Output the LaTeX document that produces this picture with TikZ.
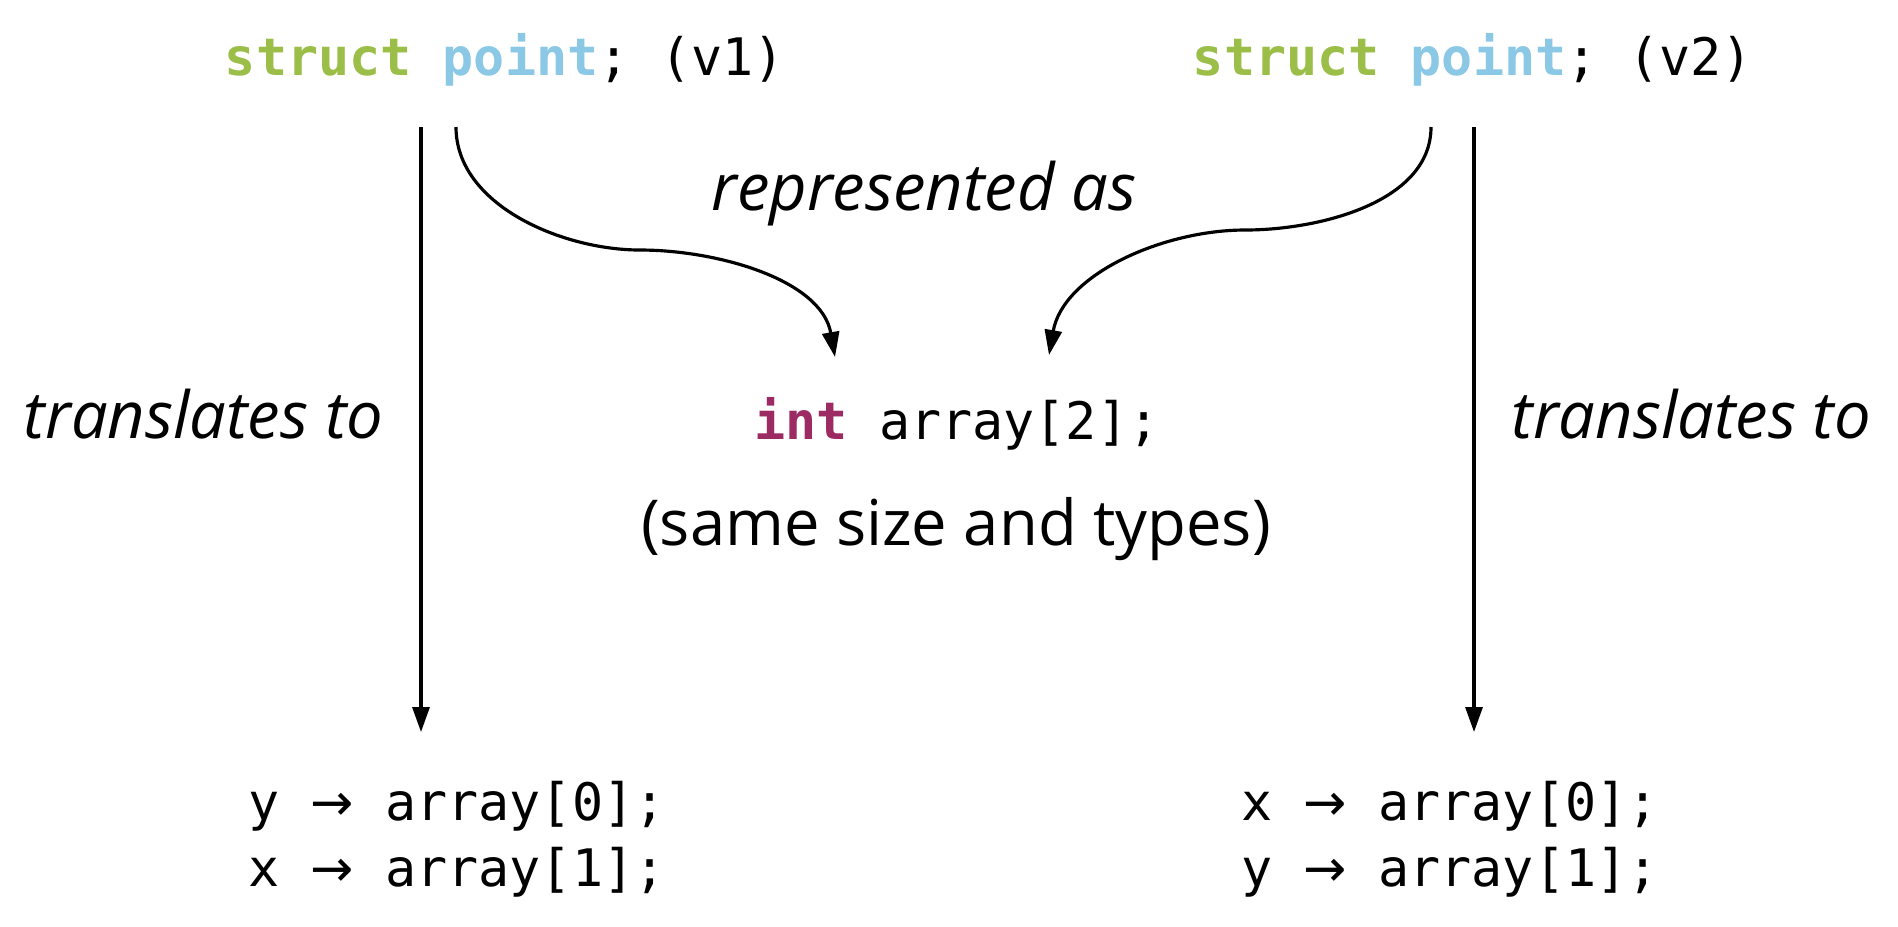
\documentclass[tikz,border=0pt]{standalone}
\usepackage{fontspec}
\setmainfont{Open Sans}
\setmonofont{DejaVu Sans Mono}
\newfontfamily\arrowfont{DejaVu Sans}
\usepackage{xcolor}
\usetikzlibrary{arrows.meta, positioning, calc}
\definecolor{kwgreen}{HTML}{9BBE48}
\definecolor{kwblue}{HTML}{8AC8E6}
\definecolor{kwpurple}{HTML}{9C2A63}
\tikzset{
  codetext/.style={
    font=\ttfamily\fontsize{14.7}{19}\selectfont, inner sep=0pt,
    align=left
  },
  notetext/.style={
    font=\fontsize{18.5}{22}\selectfont\itshape, inner sep=0pt
  },
  plaintext/.style={
    font=\fontsize{18}{22}\selectfont, inner sep=0pt
  },
  maparrow/.style={
    -{Triangle[length=2.5mm, width=1.7mm]}, line width=0.9pt
  },
}
\newcommand{\kwstruct}{\textcolor{kwgreen}{\textbf{struct}}}
\newcommand{\kwpoint}{\textcolor{kwblue}{\textbf{point}}}
\newcommand{\mapsym}{{\arrowfont →}}

\begin{document}
\begin{tikzpicture}[x=0.01cm, y=-0.01cm]
  \useasboundingbox (0,0) rectangle (1898,926);

  % ── Declarations ───────────────────────────────────────────────
  \node[codetext] (v1) at (505,60) {\kwstruct{} \kwpoint; (v1)};
  \node[codetext] (v2) at (1473,60) {\kwstruct{} \kwpoint; (v2)};

  % Shared representation
  \node[codetext] (arr) at (957,424)
    {\textcolor{kwpurple}{\textbf{int}} array[2];};
  \node[plaintext] (same) at (956,529) {(same size and types)};

  % Mappings
  \node[codetext, anchor=north west] (mapl) at (248,780)
    {y \mapsym{} array[0];\\x \mapsym{} array[1];};
  \node[codetext, anchor=north west] (mapr) at (1241,780)
    {x \mapsym{} array[0];\\y \mapsym{} array[1];};

  % ── Arrow ends ─────────────────────────────────────────────────
  \coordinate (l-top) at (421,127);
  \coordinate (l-bot) at (421,732);
  \coordinate (r-top) at (1474,127);
  \coordinate (r-bot) at (1474,732);
  \coordinate (lc-start) at (456,127);
  \coordinate (rc-start) at (1431,127);
  \coordinate (lc-end) at (835,357);
  \coordinate (rc-end) at (1049,355);

  \draw[maparrow] (l-top) -- node[notetext, pos=0.475, left=0.36cm] (trl)
    {translates to} (l-bot);
  \draw[maparrow] (r-top) -- node[notetext, pos=0.475, right=0.36cm] (trr)
    {translates to} (r-bot);

  \draw[maparrow] (lc-start) to[out=-90, in=180, looseness=0.9] (640,250)
    to[out=0, in=100, looseness=0.9] (lc-end);
  \draw[maparrow] (rc-start) to[out=-90, in=0, looseness=0.9] (1245,230)
    to[out=180, in=80, looseness=0.9] (rc-end);

  \node[notetext] (repr) at (924,194) {represented as};
\end{tikzpicture}
\end{document}
